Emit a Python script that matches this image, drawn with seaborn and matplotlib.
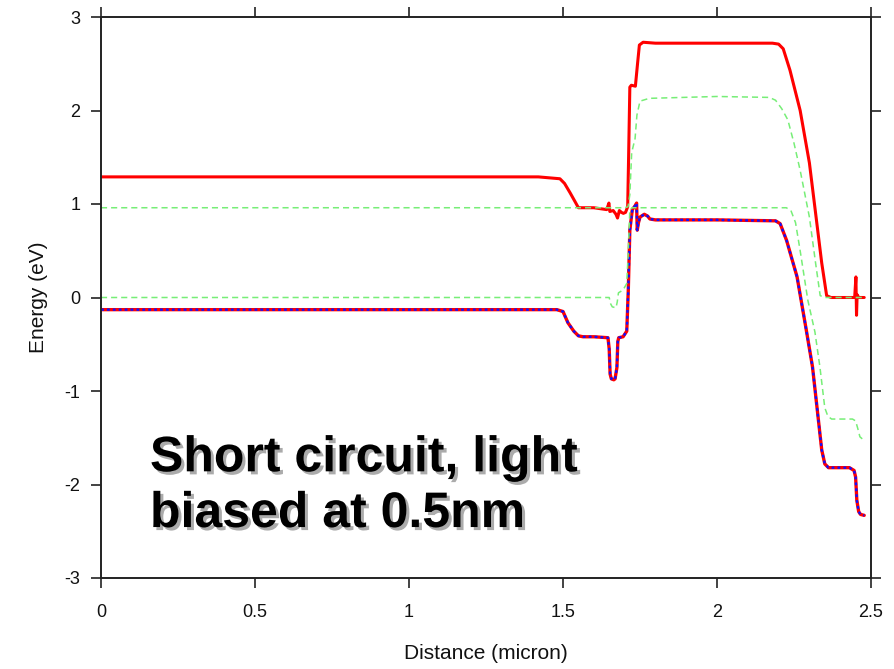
import matplotlib
matplotlib.use("Agg")
import matplotlib.pyplot as plt
import matplotlib.patheffects as pe
import seaborn as sns

# Conduction band edge Ec (eV) vs distance (micron)
ec_x = [0.0, 1.42, 1.49, 1.505, 1.523, 1.54, 1.55, 1.60, 1.642, 1.649,
        1.652, 1.663, 1.672, 1.677, 1.680, 1.683, 1.690, 1.696, 1.703, 1.710,
        1.713, 1.717, 1.722, 1.735, 1.742, 1.748, 1.76, 1.80, 2.0, 2.18,
        2.20, 2.215, 2.237, 2.27, 2.30, 2.34, 2.356, 2.370, 2.447, 2.451,
        2.453, 2.455, 2.460, 2.478]
ec_y = [1.29, 1.29, 1.27, 1.22, 1.12, 1.02, 0.96, 0.96, 0.94, 1.01,
        0.92, 0.93, 0.89, 0.85, 0.89, 0.93, 0.91, 0.90, 0.91, 0.97,
        1.50, 2.25, 2.27, 2.26, 2.50, 2.70, 2.73, 2.72, 2.72, 2.72,
        2.71, 2.66, 2.43, 2.00, 1.44, 0.37, 0.02, 0.00, 0.00, 0.22,
        -0.19, 0.03, 0.00, 0.00]

# Valence band edge Ev
ev_x = [0.0, 1.48, 1.50, 1.516, 1.535, 1.55, 1.565, 1.60, 1.646, 1.650,
        1.653, 1.657, 1.665, 1.669, 1.675, 1.678, 1.681, 1.695, 1.707, 1.712,
        1.717, 1.725, 1.734, 1.739, 1.741, 1.745, 1.750, 1.764, 1.775, 1.782,
        1.80, 2.0, 2.19, 2.205, 2.226, 2.26, 2.29, 2.31, 2.34, 2.350,
        2.362, 2.43, 2.445, 2.450, 2.454, 2.460, 2.466, 2.478]
ev_y = [-0.13, -0.13, -0.15, -0.27, -0.36, -0.41, -0.42, -0.42, -0.43, -0.55,
        -0.82, -0.87, -0.88, -0.87, -0.75, -0.47, -0.43, -0.42, -0.36, 0.08,
        0.72, 0.94, 0.98, 1.01, 0.72, 0.80, 0.86, 0.89, 0.87, 0.84,
        0.83, 0.83, 0.82, 0.79, 0.61, 0.22, -0.35, -0.74, -1.63, -1.78,
        -1.82, -1.82, -1.85, -1.92, -2.17, -2.29, -2.32, -2.33]

# Electron quasi-Fermi level
efn_x = [0.0, 1.70, 1.711, 1.717, 1.723, 1.734, 1.740, 1.75, 1.78, 2.0,
         2.17, 2.19, 2.21, 2.23, 2.25, 2.27, 2.30, 2.32, 2.335, 2.35, 2.478]
efn_y = [0.96, 0.96, 0.97, 1.10, 1.55, 1.70, 1.95, 2.10, 2.13, 2.15,
         2.14, 2.11, 2.02, 1.90, 1.65, 1.36, 0.86, 0.37, 0.02, 0.00, 0.00]

# Hole quasi-Fermi level
efp_x = [0.0, 1.650, 1.655, 1.660, 1.672, 1.676, 1.680, 1.695, 1.707, 1.711,
         1.717, 1.725, 2.0, 2.225, 2.240, 2.255, 2.27, 2.295, 2.318, 2.334,
         2.35, 2.36, 2.372, 2.44, 2.450, 2.457, 2.464, 2.478]
efp_y = [0.0, 0.0, -0.07, -0.10, -0.11, -0.05, 0.05, 0.08, 0.15, 0.43,
         0.94, 0.96, 0.96, 0.96, 0.93, 0.80, 0.50, -0.03, -0.37, -0.74,
         -1.18, -1.27, -1.30, -1.30, -1.32, -1.40, -1.49, -1.53]

x_ticks = [0, 0.5, 1, 1.5, 2, 2.5]
x_tick_labels = ["0", "0.5", "1", "1.5", "2", "2.5"]
y_ticks = [-3, -2, -1, 0, 1, 2, 3]
y_tick_labels = ["-3", "-2", "-1", "0", "1", "2", "3"]

sns.set_theme(style="white")
plt.rcParams["font.family"] = ["Liberation Sans", "DejaVu Sans"]

W, H = 895, 669
fig = plt.figure(figsize=(W / 100, H / 100), dpi=100)
ax = fig.add_axes([101 / W, 1 - 578 / H, 770 / W, 561 / H])

red = "#ff0000"
blue = "#1010ff"
green = "#77ee77"

sns.lineplot(x=ec_x, y=ec_y, ax=ax, color=red, lw=2.2,
             sort=False, estimator=None)
sns.lineplot(x=ev_x, y=ev_y, ax=ax, color=red, lw=2.4,
             sort=False, estimator=None)
sns.lineplot(x=ev_x, y=ev_y, ax=ax, color=blue, lw=1.7,
             linestyle=(0, (1.2, 1.3)), sort=False, estimator=None)
sns.lineplot(x=efn_x, y=efn_y, ax=ax, color=green, lw=1.1,
             linestyle=(0, (4, 2.6)), sort=False, estimator=None)
sns.lineplot(x=efp_x, y=efp_y, ax=ax, color=green, lw=1.1,
             linestyle=(0, (4, 2.6)), sort=False, estimator=None)

ax.set_xlim(0, 2.5)
ax.set_ylim(-3, 3)
ax.set_xticks(x_ticks)
ax.set_xticklabels(x_tick_labels)
ax.set_yticks(y_ticks)
ax.set_yticklabels(y_tick_labels)
ax.tick_params(direction="out", length=7, width=1.2, color="#222222",
               bottom=True, left=True, top=True, right=True,
               labeltop=False, labelright=False, labelsize=13,
               labelcolor="#111111", pad=8)
ax.tick_params(axis="x", pad=11.5)
for s in ax.spines.values():
    s.set_visible(True)
    s.set_color("#222222")
    s.set_linewidth(1.4)

ax.set_xlabel("Distance (micron)", fontsize=15, color="#111111", labelpad=17)
ax.set_ylabel("Energy (eV)", fontsize=15, color="#111111", labelpad=12)

ax.text(0.159, -2.455, "Short circuit, light\nbiased at 0.5nm",
        fontsize=36, fontweight="bold", family=["Liberation Sans"],
        color="black", ha="left", va="baseline", linespacing=1.27,
        path_effects=[pe.withSimplePatchShadow(offset=(2.2, -2.2),
                                               shadow_rgbFace="#888888",
                                               alpha=0.7)])

fig.savefig("out.png", dpi=100)
